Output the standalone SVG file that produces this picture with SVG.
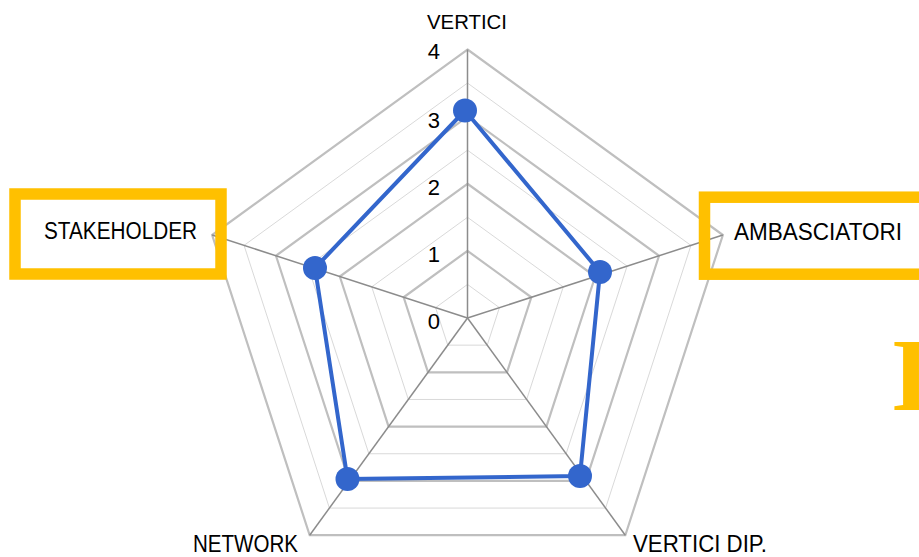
<svg xmlns="http://www.w3.org/2000/svg" width="919" height="557" viewBox="0 0 919 557">
<style>
.minor{fill:none;stroke:#d9d9d9;stroke-width:1}
.major{fill:none;stroke:#bfbfbf;stroke-width:2.2}
.spoke{stroke:#8c8c8c;stroke-width:1.5}
.tick{font-family:"Liberation Sans",Arial,sans-serif;font-size:22px;fill:#000;text-anchor:end}
.lbl{font-family:"Liberation Sans",Arial,sans-serif;fill:#000}
.box{fill:none;stroke:#ffc000;stroke-width:11.5}
.series{fill:none;stroke:#3366cc;stroke-width:4;stroke-linejoin:round}
.dot{fill:#3366cc}
</style>
<rect width="919" height="557" fill="#fff"/>
<g id="grid">
<polygon class="minor" points="467.5,284.44 499.42,307.63 487.23,345.15 447.77,345.15 435.58,307.63"/>
<polygon class="major" points="467.5,250.88 531.34,297.26 506.96,372.31 428.04,372.31 403.66,297.26"/>
<polygon class="minor" points="467.5,217.31 563.26,286.89 526.68,399.46 408.32,399.46 371.74,286.89"/>
<polygon class="major" points="467.5,183.75 595.18,276.51 546.41,426.61 388.59,426.61 339.82,276.51"/>
<polygon class="minor" points="467.5,150.19 627.10,266.14 566.14,453.76 368.86,453.76 307.90,266.14"/>
<polygon class="major" points="467.5,116.63 659.02,255.77 585.87,480.92 349.13,480.92 275.98,255.77"/>
<polygon class="minor" points="467.5,83.06 690.94,245.40 605.59,508.07 329.41,508.07 244.06,245.40"/>
<polygon class="major" points="467.5,49.5 722.86,235.03 625.32,535.22 309.68,535.22 212.14,235.03"/>
</g>
<g id="spokes">
<line class="spoke" x1="467.5" y1="318" x2="467.5" y2="49.5"/>
<line class="spoke" x1="467.5" y1="318" x2="722.86" y2="235.03"/>
<line class="spoke" x1="467.5" y1="318" x2="625.32" y2="535.22"/>
<line class="spoke" x1="467.5" y1="318" x2="309.68" y2="535.22"/>
<line class="spoke" x1="467.5" y1="318" x2="212.14" y2="235.03"/>
</g>
<g id="ticks">
<text class="tick" x="440" y="59">4</text>
<text class="tick" x="440" y="128">3</text>
<text class="tick" x="440" y="195">2</text>
<text class="tick" x="440" y="262">1</text>
<text class="tick" x="440" y="329">0</text>
</g>
<g id="series">
<polygon class="series" points="465,110.5 600,272 580,476 347.5,479 315,268"/>
<circle class="dot" cx="465" cy="110.5" r="12"/>
<circle class="dot" cx="600" cy="272" r="12"/>
<circle class="dot" cx="580" cy="476" r="12"/>
<circle class="dot" cx="347.5" cy="479" r="12"/>
<circle class="dot" cx="315" cy="268" r="12"/>
</g>
<g id="node-vertici">
<text class="lbl" x="427" y="29" font-size="19.5" textLength="80" lengthAdjust="spacingAndGlyphs">VERTICI</text>
</g>
<g id="node-ambasciatori">
<rect class="box" x="704.5" y="197.2" width="240" height="77"/>
<text class="lbl" x="734" y="240" font-size="23" textLength="168" lengthAdjust="spacingAndGlyphs">AMBASCIATORI</text>
</g>
<g id="node-vertici-dip">
<text class="lbl" x="633" y="552" font-size="23" textLength="134" lengthAdjust="spacingAndGlyphs">VERTICI DIP.</text>
</g>
<g id="node-network">
<text class="lbl" x="193" y="552" font-size="23" textLength="105" lengthAdjust="spacingAndGlyphs">NETWORK</text>
</g>
<g id="node-stakeholder">
<rect class="box" x="15" y="194" width="206" height="80"/>
<text class="lbl" x="44" y="239" font-size="23" textLength="153" lengthAdjust="spacingAndGlyphs">STAKEHOLDER</text>
</g>
<g id="fragment">
<text x="891" y="410" font-family="'Liberation Serif','Times New Roman',serif" font-weight="bold" font-size="103" fill="#ffc000">I</text>
</g>
</svg>
